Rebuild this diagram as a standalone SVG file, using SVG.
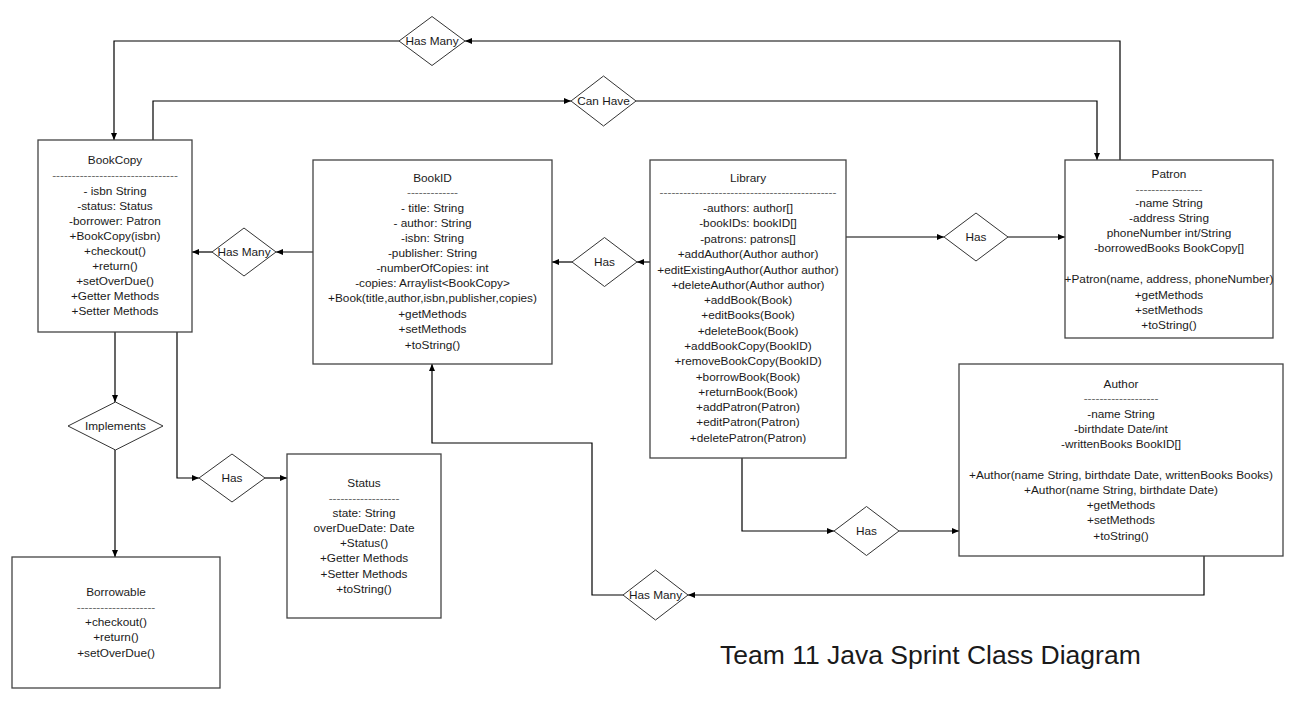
<svg xmlns="http://www.w3.org/2000/svg" width="1301" height="720" viewBox="0 0 1301 720">
<defs>
<marker id="arr" markerUnits="userSpaceOnUse" markerWidth="7" markerHeight="6" refX="7" refY="3" orient="auto">
<path d="M0,0 L7,3 L0,6 z" fill="#000"/>
</marker>
<style>
.box{fill:#fff;stroke:#444;stroke-width:1.3}
.dia{fill:#fff;stroke:#333;stroke-width:1}
.t{font-family:"Liberation Sans",Arial,sans-serif;font-size:11.8px;fill:#1a1a1a;text-anchor:middle}
.d{font-family:"Liberation Sans",Arial,sans-serif;font-size:11.8px;fill:#666;text-anchor:middle}
.c{fill:none;stroke:#000;stroke-width:1.2;marker-end:url(#arr)}
.title{font-family:"Liberation Sans",Arial,sans-serif;font-size:26.5px;fill:#1a1a1a}
</style>
</defs>
<rect width="1301" height="720" fill="#fff"/>

<g id="connectors">
<path class="c" d="M1120,160 V41 H465"/>
<path class="c" d="M399,41 H114 V140"/>
<path class="c" d="M153,140 V101 H571"/>
<path class="c" d="M636,101 H1097 V160"/>
<path class="c" d="M313,252 H276"/>
<path class="c" d="M212,252 H192"/>
<path class="c" d="M650,262 H637"/>
<path class="c" d="M572,262 H552"/>
<path class="c" d="M846,237 H944"/>
<path class="c" d="M1008,237 H1065"/>
<path class="c" d="M742,458 V531 H834"/>
<path class="c" d="M899,531 H959"/>
<path class="c" d="M1204,556 V595 H688"/>
<path class="c" d="M623,595 H592 V443 H432 V364"/>
<path class="c" d="M115,332 V402"/>
<path class="c" d="M115,450 V557"/>
<path class="c" d="M177,332 V478 H199"/>
<path class="c" d="M265,478 H287"/>
</g>

<g id="rel-hasmany-top">
<polygon class="dia" points="399,41 432,16.5 465,41 432,65.5"/>
<text class="t" x="432" y="45">Has Many</text>
</g>
<g id="rel-canhave">
<polygon class="dia" points="571,101 603.5,76 636,101 603.5,126"/>
<text class="t" x="603.5" y="105">Can Have</text>
</g>
<g id="rel-hasmany-mid">
<polygon class="dia" points="212,252 244,228 276,252 244,276"/>
<text class="t" x="244" y="256">Has Many</text>
</g>
<g id="rel-has-bookid">
<polygon class="dia" points="572,262 604.5,237.5 637,262 604.5,286.5"/>
<text class="t" x="604.5" y="266">Has</text>
</g>
<g id="rel-has-patron">
<polygon class="dia" points="944,237 976,213 1008,237 976,261"/>
<text class="t" x="976" y="241">Has</text>
</g>
<g id="rel-has-author">
<polygon class="dia" points="834,531 866.5,506.5 899,531 866.5,555.5"/>
<text class="t" x="866.5" y="535">Has</text>
</g>
<g id="rel-hasmany-bottom">
<polygon class="dia" points="623,595 655.5,570 688,595 655.5,620"/>
<text class="t" x="655.5" y="599">Has Many</text>
</g>
<g id="rel-implements">
<polygon class="dia" points="68,426 115.5,402 163,426 115.5,450"/>
<text class="t" x="115.5" y="430">Implements</text>
</g>
<g id="rel-has-status">
<polygon class="dia" points="199,478 232,454 265,478 232,502"/>
<text class="t" x="232" y="482">Has</text>
</g>

<g id="BookCopy">
<rect class="box" x="38" y="140" width="154" height="192"/>
<text class="t" x="115" y="164">BookCopy</text>
<text class="d" x="115" y="178.5">--------------------------------</text>
<text class="t" x="115" y="195">- isbn String</text>
<text class="t" x="115" y="210">-status: Status</text>
<text class="t" x="115" y="225">-borrower: Patron</text>
<text class="t" x="115" y="240">+BookCopy(isbn)</text>
<text class="t" x="115" y="255">+checkout()</text>
<text class="t" x="115" y="270">+return()</text>
<text class="t" x="115" y="285">+setOverDue()</text>
<text class="t" x="115" y="300">+Getter Methods</text>
<text class="t" x="115" y="315">+Setter Methods</text>
</g>

<g id="BookID">
<rect class="box" x="313" y="160" width="239" height="204"/>
<text class="t" x="432.5" y="182">BookID</text>
<text class="d" x="432.5" y="195.5">-------------</text>
<text class="t" x="432.5" y="212">- title: String</text>
<text class="t" x="432.5" y="227">- author: String</text>
<text class="t" x="432.5" y="242">-isbn: String</text>
<text class="t" x="432.5" y="257">-publisher: String</text>
<text class="t" x="432.5" y="272">-numberOfCopies: int</text>
<text class="t" x="432.5" y="287">-copies: Arraylist&lt;BookCopy&gt;</text>
<text class="t" x="432.5" y="302">+Book(title,author,isbn,publisher,copies)</text>
<text class="t" x="432.5" y="318">+getMethods</text>
<text class="t" x="432.5" y="333">+setMethods</text>
<text class="t" x="432.5" y="349">+toString()</text>
</g>

<g id="Library">
<rect class="box" x="650" y="160" width="196" height="298"/>
<text class="t" x="748" y="182">Library</text>
<text class="d" x="748" y="195.5">---------------------------------------------</text>
<text class="t" x="748" y="212">-authors: author[]</text>
<text class="t" x="748" y="227">-bookIDs: bookID[]</text>
<text class="t" x="748" y="243">-patrons: patrons[]</text>
<text class="t" x="748" y="258">+addAuthor(Author author)</text>
<text class="t" x="748" y="274">+editExistingAuthor(Author author)</text>
<text class="t" x="748" y="289">+deleteAuthor(Author author)</text>
<text class="t" x="748" y="304">+addBook(Book)</text>
<text class="t" x="748" y="319">+editBooks(Book)</text>
<text class="t" x="748" y="335">+deleteBook(Book)</text>
<text class="t" x="748" y="350">+addBookCopy(BookID)</text>
<text class="t" x="748" y="365">+removeBookCopy(BookID)</text>
<text class="t" x="748" y="381">+borrowBook(Book)</text>
<text class="t" x="748" y="396">+returnBook(Book)</text>
<text class="t" x="748" y="411">+addPatron(Patron)</text>
<text class="t" x="748" y="426">+editPatron(Patron)</text>
<text class="t" x="748" y="442">+deletePatron(Patron)</text>
</g>

<g id="Patron">
<rect class="box" x="1065" y="160" width="208" height="178"/>
<text class="t" x="1169" y="178">Patron</text>
<text class="d" x="1169" y="192.5">-----------------</text>
<text class="t" x="1169" y="207">-name String</text>
<text class="t" x="1169" y="222">-address String</text>
<text class="t" x="1169" y="237">phoneNumber int/String</text>
<text class="t" x="1169" y="252">-borrowedBooks BookCopy[]</text>
<text class="t" x="1169" y="283">+Patron(name, address, phoneNumber)</text>
<text class="t" x="1169" y="299">+getMethods</text>
<text class="t" x="1169" y="314">+setMethods</text>
<text class="t" x="1169" y="329">+toString()</text>
</g>

<g id="Author">
<rect class="box" x="959" y="364" width="324" height="192"/>
<text class="t" x="1121" y="388">Author</text>
<text class="d" x="1121" y="401.5">-------------------</text>
<text class="t" x="1121" y="418">-name String</text>
<text class="t" x="1121" y="433">-birthdate Date/int</text>
<text class="t" x="1121" y="448">-writtenBooks BookID[]</text>
<text class="t" x="1121" y="479">+Author(name String, birthdate Date, writtenBooks Books)</text>
<text class="t" x="1121" y="494">+Author(name String, birthdate Date)</text>
<text class="t" x="1121" y="509">+getMethods</text>
<text class="t" x="1121" y="524">+setMethods</text>
<text class="t" x="1121" y="540">+toString()</text>
</g>

<g id="Status">
<rect class="box" x="287" y="454" width="154" height="164"/>
<text class="t" x="364" y="487">Status</text>
<text class="d" x="364" y="501.5">------------------</text>
<text class="t" x="364" y="517">state: String</text>
<text class="t" x="364" y="532">overDueDate: Date</text>
<text class="t" x="364" y="547">+Status()</text>
<text class="t" x="364" y="562">+Getter Methods</text>
<text class="t" x="364" y="578">+Setter Methods</text>
<text class="t" x="364" y="593">+toString()</text>
</g>

<g id="Borrowable">
<rect class="box" x="12" y="557" width="208" height="131"/>
<text class="t" x="116" y="596">Borrowable</text>
<text class="d" x="116" y="610.5">--------------------</text>
<text class="t" x="116" y="626">+checkout()</text>
<text class="t" x="116" y="641">+return()</text>
<text class="t" x="116" y="657">+setOverDue()</text>
</g>

<text class="title" x="720" y="664">Team 11 Java Sprint Class Diagram</text>
</svg>
